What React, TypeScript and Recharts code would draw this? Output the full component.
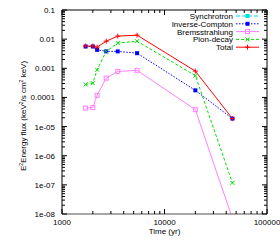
import { LineChart, Line, XAxis, YAxis } from "recharts";

const times = [1700, 2000, 2200, 2700, 3500, 5400, 20000, 46000];
const synchrotron = [null, null, null, null, null, null, null, null];
const inverseCompton = [0.0056, 0.0056, 0.0043, 0.0038, 0.0038, 0.0033, 1.75e-4, 1.88e-5];
const bremsstrahlung = [4.3e-5, 4.5e-5, 1.18e-4, 4.6e-4, 7.8e-4, 8.5e-4, 3.8e-5, 7e-9];
const pionDecay = [2.8e-4, 3.1e-4, 8.9e-4, 0.0038, 0.0073, 0.0085, 5.6e-4, 1.17e-7];
const total = [0.0058, 0.0058, 0.0053, 0.0085, 0.0127, 0.0137, 8.0e-4, 1.88e-5];

const xMajor = [1000, 10000, 100000];
const xLabels = ["1000", "10000", "100000"];
const yMajor = [1e-8, 1e-7, 1e-6, 1e-5, 1e-4, 1e-3, 1e-2, 1e-1];
const yLabels = ["1e-08", "1e-07", "1e-06", "1e-05", "0.0001", "0.001", "0.01", "0.1"];
const mults = [2, 3, 4, 5, 6, 7, 8, 9];

const xTicks = [...xMajor, ...xMajor.slice(0, -1).flatMap((d) => mults.map((m) => d * m))];
const yTicks = [...yMajor, ...yMajor.slice(0, -1).flatMap((d) => mults.map((m) => d * m))];

const data = times.map((t, i) => ({
  t,
  syn: synchrotron[i],
  ic: inverseCompton[i],
  brem: bremsstrahlung[i],
  pion: pionDecay[i],
  total: total[i],
}));

const FONT = "'Liberation Sans', Arial, sans-serif";
const TICK = "#000";

const series = [
  { key: "syn", name: "Synchrotron", color: "#00e0e0", dash: "4 2", marker: "fsquare" },
  { key: "ic", name: "Inverse-Compton", color: "#0000ff", dash: "1.5 1.5", marker: "fsquare" },
  { key: "brem", name: "Bremsstrahlung", color: "#ff80ff", dash: undefined, marker: "osquare" },
  { key: "pion", name: "Pion-decay", color: "#00dd00", dash: "3 2", marker: "cross" },
  { key: "total", name: "Total", color: "#ff0000", dash: undefined, marker: "plus" },
];

function markerShape(kind: string, cx: number, cy: number, color: string, key?: any) {
  if (cx == null || cy == null || isNaN(cx) || isNaN(cy)) return <g key={key} />;
  const s = 2;
  if (kind === "fsquare")
    return <rect key={key} x={cx - s} y={cy - s} width={2 * s} height={2 * s} fill={color} />;
  if (kind === "osquare")
    return <rect key={key} x={cx - s} y={cy - s} width={2 * s} height={2 * s} fill="none" stroke={color} strokeWidth={1} />;
  if (kind === "cross")
    return (
      <path key={key} d={`M${cx - s},${cy - s}L${cx + s},${cy + s}M${cx - s},${cy + s}L${cx + s},${cy - s}`} stroke={color} strokeWidth={1} />
    );
  return (
    <path key={key} d={`M${cx - 2.5},${cy}L${cx + 2.5},${cy}M${cx},${cy - 2.5}L${cx},${cy + 2.5}`} stroke={color} strokeWidth={1} />
  );
}

const isMajor = (v: number, list: number[]) => list.findIndex((m) => Math.abs(v / m - 1) < 1e-6);

function BottomTick({ x, y, payload }: any) {
  const idx = isMajor(payload.value, xMajor);
  const len = idx >= 0 ? 5 : 3;
  return (
    <g>
      <line x1={Number(x)} x2={Number(x)} y1={Number(y)} y2={Number(y) - len} stroke={TICK} strokeWidth={1} />
      {idx >= 0 && (
        <text x={x} y={Number(y) + 11} textAnchor="middle" fontSize={8} fontFamily={FONT} fill="#000">
          {xLabels[idx]}
        </text>
      )}
    </g>
  );
}

function TopTick({ x, y, payload }: any) {
  const len = isMajor(payload.value, xMajor) >= 0 ? 5 : 3;
  return <line x1={Number(x)} x2={Number(x)} y1={Number(y)} y2={Number(y) + len} stroke={TICK} strokeWidth={1} />;
}

function LeftTick({ x, y, payload }: any) {
  const idx = isMajor(payload.value, yMajor);
  const len = idx >= 0 ? 5 : 3;
  return (
    <g>
      <line x1={Number(x)} x2={Number(x) + len} y1={Number(y)} y2={Number(y)} stroke={TICK} strokeWidth={1} />
      {idx >= 0 && (
        <text x={Number(x) - 7} y={Number(y) + 3} textAnchor="end" fontSize={8} fontFamily={FONT} fill="#000">
          {yLabels[idx]}
        </text>
      )}
    </g>
  );
}

function RightTick({ x, y, payload }: any) {
  const len = isMajor(payload.value, yMajor) >= 0 ? 5 : 3;
  return <line x1={Number(x)} x2={Number(x) - len} y1={Number(y)} y2={Number(y)} stroke={TICK} strokeWidth={1} />;
}

function YTitle() {
  return (
    <text transform="translate(26,116) rotate(-90)" textAnchor="middle" fontSize={8} fontFamily={FONT} fill="#000">
      E<tspan fontSize={5} dy={-3}>2</tspan>
      <tspan dy={3}>Energy flux (keV</tspan>
      <tspan fontSize={5} dy={-3}>2</tspan>
      <tspan dy={3}>/s cm</tspan>
      <tspan fontSize={5} dy={-3}>2</tspan>
      <tspan dy={3}> keV)</tspan>
    </text>
  );
}

function LegendBox() {
  return (
    <svg width={280} height={60} style={{ position: "absolute", left: 0, top: 0, pointerEvents: "none" }}>
      {series.map((s, i) => {
        const y = 16 + i * 7.8;
        return (
          <g key={s.key}>
            <text x={233} y={y + 3} textAnchor="end" fontSize={8} fontFamily={FONT} fill="#000">
              {s.name}
            </text>
            <line x1={236} x2={259} y1={y} y2={y} stroke={s.color} strokeWidth={1} strokeDasharray={s.dash} />
            {markerShape(s.marker, 247.5, y, s.color)}
          </g>
        );
      })}
    </svg>
  );
}

export default function App() {
  return (
    <div style={{ position: "absolute", left: 0, top: 0, width: 280, height: 240, background: "#fff" }}>
      <LineChart width={280} height={240} data={data} margin={{ top: 9, right: 12, left: 0, bottom: 0 }}>
        <XAxis
          xAxisId="top"
          orientation="top"
          dataKey="t"
          type="number"
          scale="log"
          domain={[1000, 100000]}
          allowDataOverflow
          ticks={xTicks}
          interval={0}
          height={1}
          tickSize={0}
          tickMargin={0}
          tickLine={false}
          tick={<TopTick />}
          axisLine={{ stroke: "#000" }}
        />
        <XAxis
          dataKey="t"
          type="number"
          scale="log"
          domain={[1000, 100000]}
          allowDataOverflow
          ticks={xTicks}
          interval={0}
          height={26}
          tickSize={0}
          tickMargin={0}
          tickLine={false}
          tick={<BottomTick />}
          axisLine={{ stroke: "#888", strokeWidth: 1.5 }}
          label={{ value: "Time (yr)", position: "insideBottom", offset: 6, fontSize: 8, fontFamily: FONT, fill: "#000" }}
        />
        <YAxis
          yAxisId="right"
          orientation="right"
          type="number"
          scale="log"
          domain={[1e-8, 0.1]}
          allowDataOverflow
          ticks={yTicks}
          interval={0}
          width={1}
          tickSize={0}
          tickMargin={0}
          tickLine={false}
          tick={<RightTick />}
          axisLine={{ stroke: "#000" }}
        />
        <YAxis
          type="number"
          scale="log"
          domain={[1e-8, 0.1]}
          allowDataOverflow
          ticks={yTicks}
          interval={0}
          width={62}
          tickSize={0}
          tickMargin={0}
          tickLine={false}
          tick={<LeftTick />}
          axisLine={{ stroke: "#000" }}
          label={{ content: () => <YTitle /> }}
        />
        {series.map((s) => (
          <Line
            key={s.key}
            dataKey={s.key}
            name={s.name}
            stroke={s.color}
            strokeWidth={1}
            strokeDasharray={s.dash}
            connectNulls={false}
            isAnimationActive={false}
            dot={(p: any) => markerShape(s.marker, p.cx, p.cy, s.color, `${s.key}-${p.index}`)}
            activeDot={false}
          />
        ))}
      </LineChart>
      <LegendBox />
    </div>
  );
}
